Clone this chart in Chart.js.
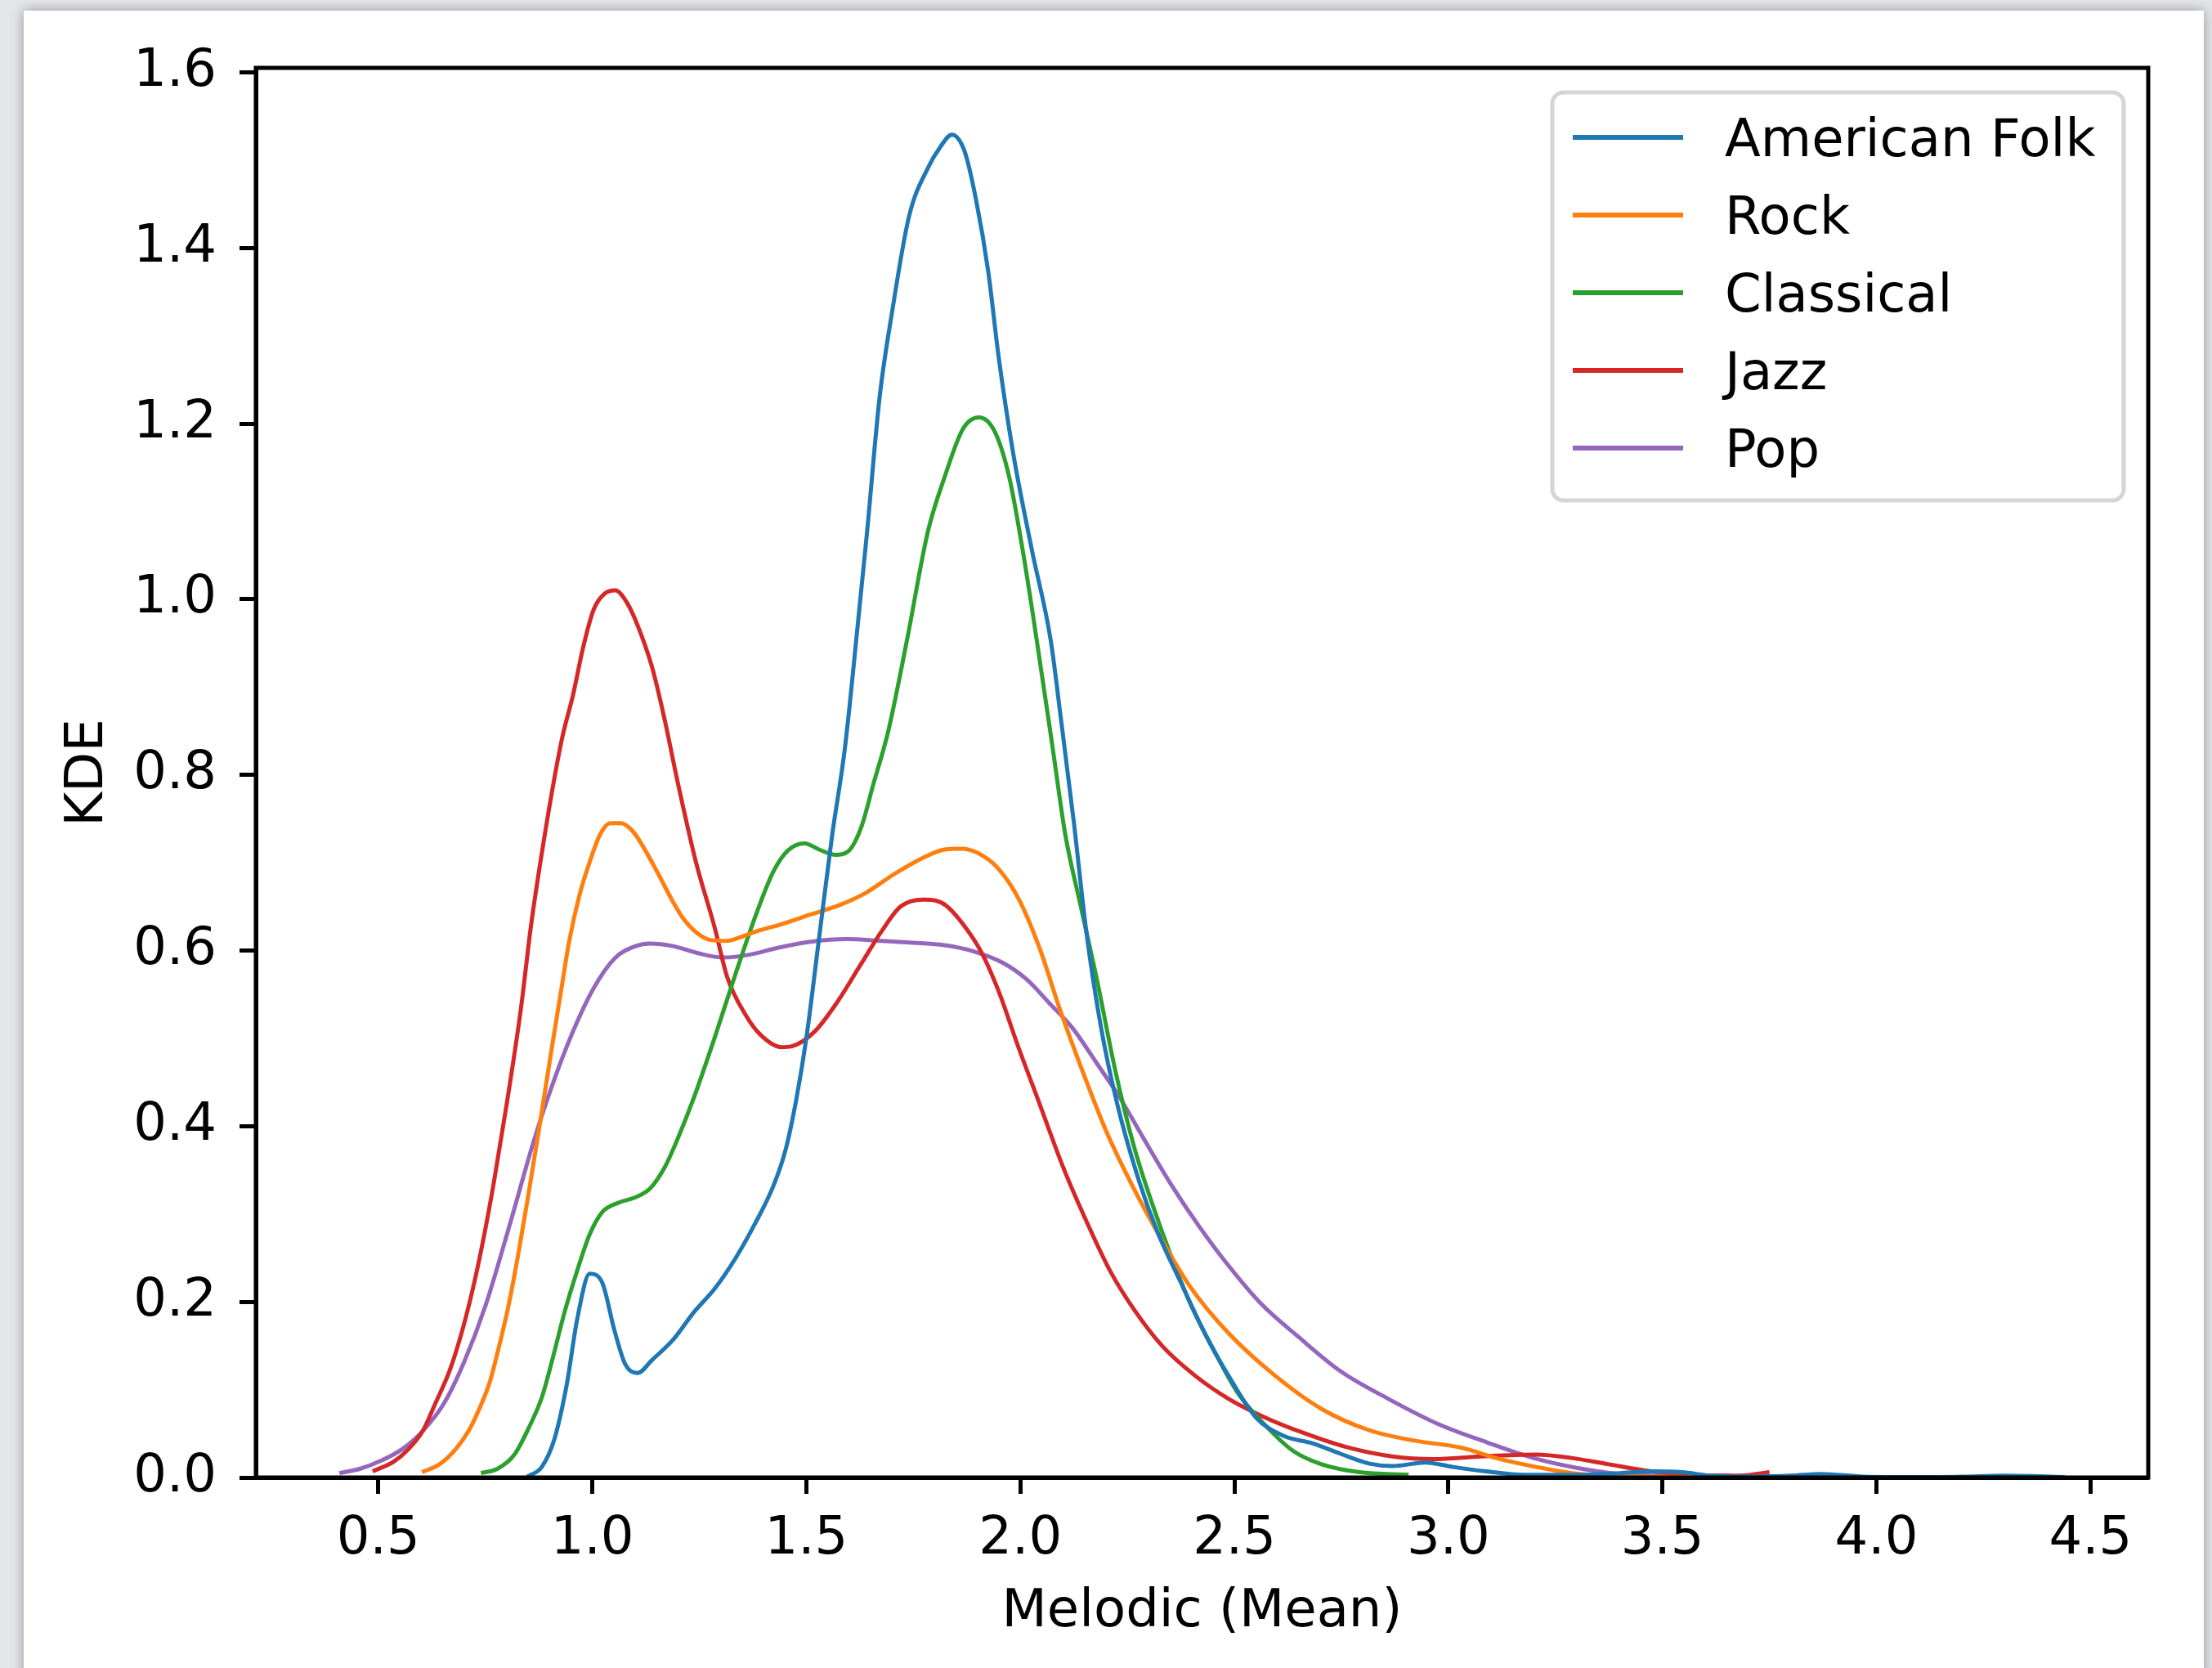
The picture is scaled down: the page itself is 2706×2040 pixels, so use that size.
<!DOCTYPE html>
<html>
<head>
<meta charset="utf-8">
<script src="https://cdn.jsdelivr.net/npm/chart.js@4"></script>
<style>
  html, body { margin: 0; padding: 0; }
  body { width: 2706px; height: 2040px; background: #e3e5e9; position: relative; overflow: hidden; }
  #sheet { position: absolute; left: 29px; top: 13px; width: 2667px; height: 2040px; background: #fff;
           box-shadow: 0 0 14px rgba(0,0,0,0.35); }
  #kde { position: absolute; left: 0; top: 0; }
</style>
</head>
<body>
<div id="sheet"></div>
<canvas id="kde" width="2706" height="2040"></canvas>
<script>
const folkX = [0.848, 0.882, 0.911, 0.940, 0.965, 0.994, 1.023, 1.052, 1.077, 1.106, 1.140, 1.189, 1.237, 1.286, 1.335, 1.379, 1.423, 1.452, 1.476, 1.500, 1.530, 1.560, 1.590, 1.620, 1.642, 1.671, 1.701, 1.740, 1.784, 1.813, 1.840, 1.869, 1.896, 1.925, 1.949, 1.983, 2.027, 2.071, 2.095, 2.125, 2.154, 2.189, 2.227, 2.277, 2.320, 2.375, 2.430, 2.485, 2.551, 2.617, 2.682, 2.748, 2.814, 2.869, 2.946, 3.011, 3.088, 3.176, 3.307, 3.400, 3.477, 3.546, 3.614, 3.716, 3.800, 3.870, 3.970, 4.100, 4.200, 4.300, 4.440];
const folkY = [0.001, 0.012, 0.043, 0.105, 0.181, 0.232, 0.222, 0.167, 0.129, 0.119, 0.134, 0.157, 0.188, 0.215, 0.250, 0.288, 0.332, 0.374, 0.429, 0.500, 0.615, 0.730, 0.830, 0.970, 1.077, 1.229, 1.329, 1.436, 1.491, 1.515, 1.529, 1.511, 1.456, 1.373, 1.277, 1.167, 1.056, 0.953, 0.863, 0.746, 0.622, 0.511, 0.424, 0.338, 0.280, 0.222, 0.165, 0.117, 0.068, 0.047, 0.039, 0.027, 0.016, 0.013, 0.017, 0.012, 0.007, 0.003, 0.003, 0.005, 0.007, 0.006, 0.002, 0.001, 0.002, 0.004, 0.001, 0.0005, 0.001, 0.002, 0.0005];

const rockX = [0.602, 0.643, 0.682, 0.711, 0.735, 0.760, 0.779, 0.804, 0.828, 0.852, 0.877, 0.906, 0.930, 0.945, 0.970, 0.994, 1.018, 1.042, 1.067, 1.096, 1.125, 1.150, 1.189, 1.213, 1.242, 1.276, 1.315, 1.345, 1.384, 1.442, 1.510, 1.579, 1.637, 1.705, 1.774, 1.823, 1.862, 1.901, 1.949, 1.998, 2.047, 2.091, 2.145, 2.200, 2.266, 2.331, 2.397, 2.485, 2.595, 2.704, 2.814, 2.920, 3.030, 3.120, 3.205, 3.290, 3.375, 3.500, 3.600, 3.700];
const rockY = [0.006, 0.015, 0.033, 0.053, 0.077, 0.108, 0.143, 0.195, 0.257, 0.326, 0.401, 0.491, 0.563, 0.608, 0.663, 0.701, 0.732, 0.745, 0.745, 0.735, 0.713, 0.691, 0.655, 0.636, 0.621, 0.612, 0.611, 0.615, 0.622, 0.630, 0.641, 0.652, 0.665, 0.687, 0.706, 0.715, 0.716, 0.711, 0.693, 0.657, 0.600, 0.535, 0.463, 0.395, 0.328, 0.270, 0.217, 0.165, 0.116, 0.078, 0.054, 0.042, 0.034, 0.021, 0.012, 0.005, 0.002, 0.0006, 0.0003, 0.0002];

const classicalX = [0.740, 0.779, 0.818, 0.852, 0.882, 0.906, 0.935, 0.965, 0.994, 1.023, 1.062, 1.101, 1.135, 1.169, 1.198, 1.237, 1.286, 1.335, 1.384, 1.423, 1.457, 1.496, 1.530, 1.569, 1.598, 1.628, 1.657, 1.691, 1.735, 1.784, 1.823, 1.866, 1.903, 1.940, 1.974, 2.003, 2.032, 2.076, 2.105, 2.139, 2.178, 2.222, 2.266, 2.310, 2.353, 2.397, 2.452, 2.507, 2.573, 2.638, 2.704, 2.792, 2.907];
const classicalY = [0.005, 0.010, 0.026, 0.057, 0.091, 0.133, 0.188, 0.236, 0.277, 0.302, 0.313, 0.319, 0.329, 0.353, 0.384, 0.432, 0.501, 0.574, 0.643, 0.690, 0.714, 0.722, 0.715, 0.709, 0.713, 0.740, 0.790, 0.849, 0.953, 1.077, 1.139, 1.194, 1.207, 1.191, 1.139, 1.063, 0.974, 0.829, 0.732, 0.655, 0.569, 0.463, 0.376, 0.309, 0.251, 0.198, 0.145, 0.097, 0.059, 0.030, 0.015, 0.006, 0.003];

const jazzX = [0.487, 0.536, 0.570, 0.604, 0.633, 0.667, 0.696, 0.721, 0.745, 0.770, 0.799, 0.833, 0.857, 0.887, 0.911, 0.930, 0.955, 0.979, 1.003, 1.028, 1.054, 1.081, 1.106, 1.140, 1.169, 1.198, 1.242, 1.286, 1.315, 1.359, 1.393, 1.442, 1.466, 1.520, 1.569, 1.627, 1.676, 1.720, 1.774, 1.801, 1.827, 1.866, 1.909, 1.953, 1.991, 2.046, 2.101, 2.156, 2.211, 2.266, 2.331, 2.408, 2.485, 2.573, 2.660, 2.759, 2.869, 2.966, 3.077, 3.205, 3.290, 3.375, 3.460, 3.546, 3.631, 3.680, 3.750];
const jazzY = [0.007, 0.018, 0.032, 0.053, 0.084, 0.122, 0.167, 0.215, 0.270, 0.336, 0.422, 0.533, 0.629, 0.726, 0.795, 0.843, 0.891, 0.946, 0.988, 1.006, 1.010, 0.996, 0.970, 0.922, 0.863, 0.795, 0.701, 0.626, 0.570, 0.526, 0.504, 0.490, 0.491, 0.508, 0.539, 0.584, 0.622, 0.650, 0.658, 0.657, 0.651, 0.630, 0.598, 0.549, 0.496, 0.424, 0.352, 0.290, 0.234, 0.191, 0.150, 0.116, 0.090, 0.068, 0.051, 0.035, 0.024, 0.021, 0.024, 0.026, 0.022, 0.015, 0.008, 0.004, 0.002, 0.002, 0.006];

const popX = [0.409, 0.458, 0.506, 0.555, 0.604, 0.653, 0.701, 0.750, 0.809, 0.862, 0.906, 0.955, 1.003, 1.052, 1.101, 1.135, 1.189, 1.247, 1.306, 1.364, 1.433, 1.510, 1.594, 1.676, 1.742, 1.823, 1.891, 1.959, 2.015, 2.068, 2.123, 2.178, 2.233, 2.288, 2.353, 2.419, 2.485, 2.562, 2.650, 2.748, 2.858, 2.980, 3.090, 3.200, 3.300, 3.400, 3.503, 3.660];
const popY = [0.005, 0.010, 0.019, 0.032, 0.053, 0.084, 0.132, 0.195, 0.291, 0.381, 0.446, 0.508, 0.557, 0.591, 0.605, 0.608, 0.605, 0.597, 0.592, 0.595, 0.603, 0.610, 0.613, 0.611, 0.609, 0.606, 0.599, 0.586, 0.567, 0.540, 0.511, 0.472, 0.432, 0.386, 0.333, 0.285, 0.242, 0.198, 0.160, 0.121, 0.090, 0.060, 0.040, 0.022, 0.011, 0.004, 0.002, 0.002];

const genres = ["American Folk", "Rock", "Classical", "Jazz", "Pop"];
const colors = ["#1f77b4", "#ff7f0e", "#2ca02c", "#d62728", "#9467bd"];
const xTicks = [0.5, 1.0, 1.5, 2.0, 2.5, 3.0, 3.5, 4.0, 4.5];
const yTicks = [0.0, 0.2, 0.4, 0.6, 0.8, 1.0, 1.2, 1.4, 1.6];

const xs = [folkX, rockX, classicalX, jazzX, popX];
const ys = [folkY, rockY, classicalY, jazzY, popY];

Chart.defaults.font.family = "DejaVu Sans";
Chart.defaults.font.size = 64;
Chart.defaults.color = "#000";

const datasets = genres.map((g, k) => ({
  label: g,
  data: xs[k].map((x, i) => ({ x: x, y: ys[k][i] })),
  borderColor: colors[k],
  backgroundColor: colors[k],
  borderWidth: 5,
  pointRadius: 0,
  fill: false,
  cubicInterpolationMode: "monotone",
}));

// matplotlib-style box around the axes
const frame = {
  id: "frame",
  afterDatasetsDraw(chart) {
    const a = chart.chartArea;
    const c = chart.ctx;
    c.save();
    c.strokeStyle = "#000";
    c.lineWidth = 5;
    c.strokeRect(a.left, a.top, a.right - a.left, a.bottom - a.top);
    c.restore();
  },
};

// legend box in upper right corner
const legendBox = {
  id: "legendBox",
  afterDraw(chart) {
    const a = chart.chartArea;
    const c = chart.ctx;
    const w = 699, h = 499;
    const x0 = a.right - 30 - w, y0 = a.top + 30;
    c.save();
    c.beginPath();
    c.roundRect(x0, y0, w, h, 14);
    c.fillStyle = "rgba(255,255,255,0.8)";
    c.fill();
    c.strokeStyle = "#d5d5d5";
    c.lineWidth = 5;
    c.stroke();
    c.font = "64px 'DejaVu Sans'";
    c.textBaseline = "alphabetic";
    c.fillStyle = "#000";
    chart.data.datasets.forEach((ds, i) => {
      const ly = y0 + 55 + i * 95;
      c.beginPath();
      c.moveTo(x0 + 25, ly);
      c.lineTo(x0 + 160, ly);
      c.strokeStyle = ds.borderColor;
      c.lineWidth = 6;
      c.stroke();
      c.fillText(ds.label, x0 + 211, ly + 23);
    });
    c.restore();
  },
};

new Chart(document.getElementById("kde"), {
  type: "line",
  data: { datasets: datasets },
  plugins: [frame, legendBox],
  options: {
    responsive: false,
    animation: false,
    devicePixelRatio: 1,
    layout: { padding: { left: 0, top: 83, right: 78, bottom: 0 } },
    plugins: { legend: { display: false }, tooltip: { enabled: false } },
    scales: {
      x: {
        type: "linear",
        min: 0.214,
        max: 4.635,
        afterBuildTicks: (s) => { s.ticks = xTicks.map((v) => ({ value: v })); },
        afterFit: (s) => { s.height = 233; },
        ticks: { padding: 18, callback: (v) => v.toFixed(1), maxRotation: 0 },
        grid: { drawOnChartArea: false, drawTicks: true, tickLength: 20, tickWidth: 5, tickColor: "#000" },
        border: { display: true, color: "#000", width: 5 },
        title: { display: true, text: "Melodic (Mean)", padding: { top: 0, bottom: 29 } },
      },
      y: {
        type: "linear",
        min: 0,
        max: 1.605,
        afterBuildTicks: (s) => { s.ticks = yTicks.map((v) => ({ value: v })); },
        afterFit: (s) => { s.width = 313; },
        ticks: { padding: 28, callback: (v) => v.toFixed(1) },
        grid: { drawOnChartArea: false, drawTicks: true, tickLength: 20, tickWidth: 5, tickColor: "#000" },
        border: { display: true, color: "#000", width: 5 },
        title: { display: true, text: "KDE", padding: { top: 70, bottom: 0 } },
      },
    },
  },
});
</script>
</body>
</html>
